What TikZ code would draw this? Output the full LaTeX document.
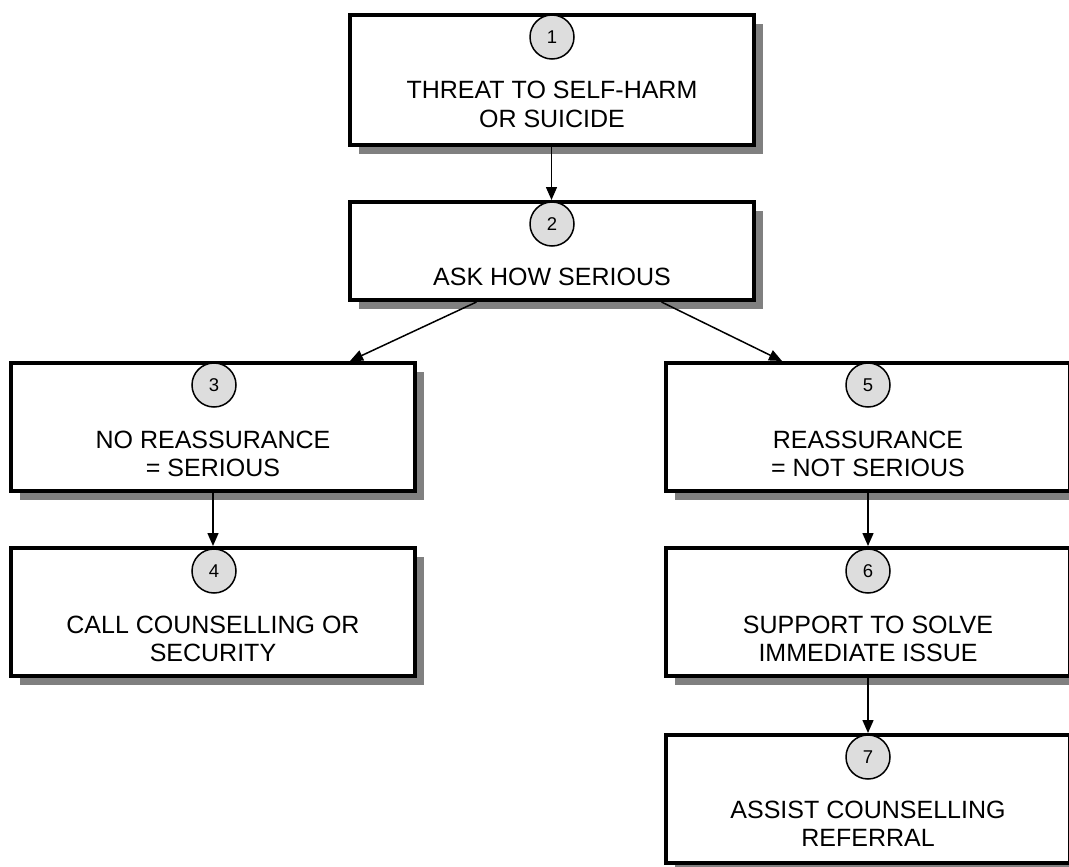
\documentclass[tikz,border=0pt]{standalone}
\usepackage{fontspec}
\setmainfont{Liberation Sans}
\usetikzlibrary{shadows,arrows.meta}
\definecolor{shadowgray}{RGB}{128,128,128}
\definecolor{circlegray}{RGB}{221,221,221}
\begin{document}
\begin{tikzpicture}[x=1pt,y=-1pt,
  box/.style={draw=black, line width=4pt, fill=white, rectangle,
    minimum width=404pt, minimum height=128pt, inner sep=0pt,
    drop shadow={shadow xshift=9pt, shadow yshift=-9pt, fill=shadowgray, opacity=1}},
  num/.style={circle, draw=black, line width=1.5pt, fill=circlegray,
    minimum size=44pt, inner sep=0pt, font=\fontsize{18.5}{20}\selectfont},
  lbl/.style={anchor=base, align=center, inner sep=0pt, font=\fontsize{25}{28.5}\selectfont},
  conn/.style={line width=1.5pt, -{Triangle[length=13pt,width=11pt]}}
]
\clip (0,0) rectangle (1069,867);

% boxes
\node[box, minimum height=130pt] (b1) at (551.5,80) {};
\node[box, minimum height=98pt]  (b2) at (551.5,251) {};
\node[box] (b3) at (213,427) {};
\node[box] (b4) at (213,612) {};
\node[box] (b5) at (868,427) {};
\node[box] (b6) at (868,612) {};
\node[box] (b7) at (868,799) {};

% numbered circles
\node[num] (n1) at (552,37) {1};
\node[num] (n2) at (552,224) {2};
\node[num] (n3) at (214,385) {3};
\node[num] (n4) at (214,571) {4};
\node[num] (n5) at (868,385) {5};
\node[num] (n6) at (868,571) {6};
\node[num] (n7) at (868,757) {7};

% texts (base anchor = baseline of the last line)
\node[lbl] (t1) at (552,127) {THREAT TO SELF-HARM\\OR SUICIDE};
\node[lbl] (t2) at (552,285) {ASK HOW SERIOUS};
\node[lbl] (t3) at (213,476.5) {NO REASSURANCE\\= SERIOUS};
\node[lbl] (t4) at (213,661.5) {CALL COUNSELLING OR\\SECURITY};
\node[lbl] (t5) at (868,476.5) {REASSURANCE\\= NOT SERIOUS};
\node[lbl] (t6) at (868,661.5) {SUPPORT TO SOLVE\\IMMEDIATE ISSUE};
\node[lbl] (t7) at (868,846.5) {ASSIST COUNSELLING\\REFERRAL};

% connectors
\draw[conn] (b1.south) -- (b2.north);
\draw[conn] ([xshift=-75pt]b2.south) -- ([xshift=137pt]b3.north);
\draw[conn] ([xshift=110pt]b2.south) -- ([xshift=-86pt]b5.north);
\draw[conn] (b3.south) -- (b4.north);
\draw[conn] (b5.south) -- (b6.north);
\draw[conn] (b6.south) -- (b7.north);
\end{tikzpicture}
\end{document}
